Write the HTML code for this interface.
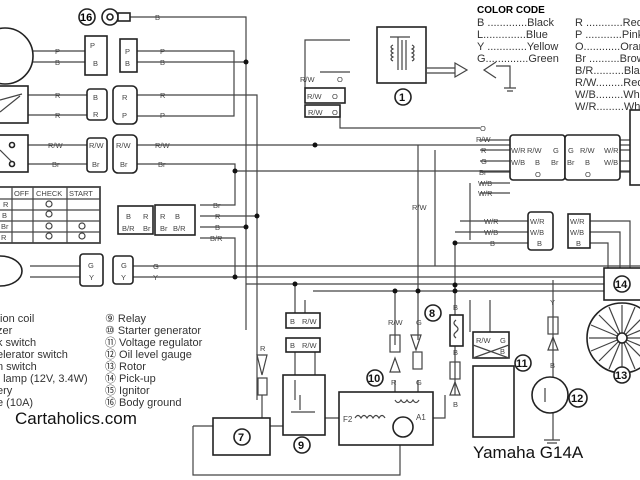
<!DOCTYPE html>
<html><head><meta charset="utf-8"><style>
html,body{margin:0;padding:0;background:#fff;}
svg{display:block;font-family:"Liberation Sans",sans-serif;}
.w{stroke:#444;stroke-width:1.2;fill:none}
.b{stroke:#222;stroke-width:1.6;fill:#fff}
.t{font-size:7.5px;fill:#444}
.lg{font-size:11px;fill:#333}
</style></head><body>
<svg width="640" height="480" viewBox="0 0 640 480" xmlns="http://www.w3.org/2000/svg">
<g class="w">
<path d="M130 17H246V330"/>
<path d="M33 51H85M137 51H234V116H137M33 62H85M137 62H246"/>
<path d="M28 95H87M28 115H87M137 95H257V400"/>
<path d="M28 145H87M28 164H87M137 145H640M137 164H235V205H200"/>
<path d="M235 171H640"/>
<path d="M200 216H257M200 227H246M200 238H235V277"/>
<path d="M30 266H80M30 277H80M133 266H640M133 277H640"/>
<path d="M246 284H640M313 291H640"/>
<path d="M305 88V40H350M320 72H350M340 110V128H480M418 145V291M435 150V266M455 243V291M470 183V240"/>
<path d="M480 140H510M480 150H510M480 161H510M480 172H510M480 183H510M480 193H510"/>
<path d="M460 221H528M455 232H528M455 243H528M590 221H630V270M590 232H620V270M590 243H608V270"/>
<path d="M620 140H640M620 150H640M620 161H640M620 172H640"/>
<path d="M395 291V345M418 291V340M455 285V315M455 346V395M470 300V332M490 300V332M553 280V440"/>
<path d="M295 284V313M305 300V315M295 352V375M315 352V375"/>
<path d="M193 426V475H400V418M193 426H213M270 426H283M262 395V418M325 418H339M433 418H445V395"/>
<path d="M395 380V400M418 380V400"/>
</g>
<g fill="#111">
<circle cx="246" cy="62" r="2.5"/><circle cx="315" cy="145" r="2.5"/><circle cx="235" cy="171" r="2.5"/>
<circle cx="257" cy="216" r="2.5"/><circle cx="246" cy="227" r="2.5"/><circle cx="235" cy="277" r="2.5"/>
<circle cx="295" cy="284" r="2.5"/><circle cx="455" cy="243" r="2.5"/><circle cx="455" cy="285" r="2.5"/>
<circle cx="418" cy="291" r="2.5"/><circle cx="395" cy="291" r="2.5"/><circle cx="455" cy="291" r="2.5"/>
</g>
<circle cx="87" cy="17" r="8" class="b"/><text x="80" y="21" font-size="11" font-weight="bold">16</text>
<circle cx="110" cy="17" r="8" class="b"/><circle cx="110" cy="17" r="3" class="b"/><rect x="118" y="13" width="12" height="8" class="b"/>
<circle cx="5" cy="56" r="28" class="b"/>
<rect x="-2" y="86" width="30" height="37" class="b"/><path d="M0 100L22 94M0 112L20 96" class="w"/>
<rect x="-2" y="135" width="30" height="37" class="b"/><path d="M0 150L12 162" class="w"/><circle cx="12" cy="145" r="2.5" class="b"/><circle cx="12" cy="164" r="2.5" class="b"/>
<ellipse cx="0" cy="271" rx="22" ry="15" class="b"/>
<g class="b">
<rect x="85" y="36" width="22" height="39"/><rect x="120" y="39" width="17" height="33"/>
<rect x="87" y="89" width="20" height="31" rx="3"/><rect x="113" y="86" width="24" height="38" rx="5"/>
<rect x="87" y="138" width="20" height="34" rx="3"/><rect x="113" y="135" width="24" height="38" rx="5"/>
<rect x="118" y="206" width="35" height="28"/><rect x="155" y="205" width="40" height="30"/>
<rect x="80" y="254" width="23" height="32" rx="3"/><rect x="113" y="256" width="20" height="28" rx="3"/>
<rect x="305" y="88" width="40" height="15"/><rect x="305" y="105" width="35" height="12"/>
<rect x="377" y="27" width="49" height="56"/>
<rect x="510" y="135" width="55" height="45" rx="3"/><rect x="565" y="135" width="55" height="45" rx="3"/>
<rect x="630" y="110" width="15" height="75"/>
<rect x="528" y="212" width="25" height="38" rx="3"/><rect x="568" y="214" width="22" height="34"/>
<rect x="604" y="268" width="40" height="32"/>
<rect x="286" y="313" width="34" height="15"/><rect x="286" y="338" width="34" height="14"/>
<rect x="283" y="375" width="42" height="60"/>
<rect x="213" y="418" width="57" height="37"/>
<rect x="339" y="392" width="94" height="53"/>
<rect x="450" y="315" width="13" height="31"/>
<rect x="473" y="332" width="36" height="26"/><rect x="473" y="366" width="41" height="71"/>
</g>
<!-- coil internals -->
<g class="w">
<path d="M390 37H410M398 37V70M402 40V70M406 40V70"/>
<path d="M393 45q-4 2 0 4q-4 2 0 4q-4 2 0 4q-4 2 0 4M412 45q4 2 0 4q4 2 0 4q4 2 0 4q4 2 0 4"/>
<path d="M355 418q3-5 6 0q3-5 6 0q3-5 6 0q3-5 6 0q3-5 6 0"/>
<path d="M395 400q3 5 6 0q3 5 6 0q3 5 6 0q3 5 6 0"/>
<path d="M456 320q-4 3 0 6q4 3 0 6q-4 3 0 6"/>
<path d="M295 380V400M300 395V410M291 412H315"/>
</g>
<path d="M426 68H455M426 73H455M455 63L467 70L455 77Z" class="w"/>
<path d="M496 62L484 70L496 78M496 66H510V88M504 88H516M507 91H513" class="w"/>
<g class="w"><rect x="-2" y="187" width="102" height="56" stroke-width="1.8"/><path d="M12 187V243M33 187V243M67 187V243M0 199H100M0 210H100M0 221H100M0 232H100"/></g>
<g class="t"><text x="14" y="196">OFF</text><text x="36" y="196">CHECK</text><text x="69" y="196">START</text>
<text x="3" y="207">R</text><text x="2" y="218">B</text><text x="1" y="229">Br</text><text x="1" y="240">R</text></g>
<g class="w"><circle cx="49" cy="204" r="3"/><circle cx="49" cy="214" r="3"/><circle cx="49" cy="226" r="3"/><circle cx="49" cy="236" r="3"/><circle cx="82" cy="226" r="3"/><circle cx="82" cy="236" r="3"/></g>
<g class="t">
<text x="155" y="20">B</text><text x="55" y="54">P</text><text x="55" y="65">B</text><text x="160" y="54">P</text><text x="160" y="65">B</text>
<text x="90" y="48">P</text><text x="93" y="66">B</text><text x="125" y="54">P</text><text x="125" y="66">B</text>
<text x="55" y="98">R</text><text x="55" y="118">R</text><text x="160" y="98">R</text><text x="160" y="118">P</text>
<text x="93" y="100">B</text><text x="93" y="117">R</text><text x="122" y="100">R</text><text x="122" y="118">P</text>
<text x="48" y="148">R/W</text><text x="52" y="167">Br</text><text x="155" y="148">R/W</text><text x="158" y="167">Br</text>
<text x="89" y="148">R/W</text><text x="92" y="167">Br</text><text x="116" y="148">R/W</text><text x="120" y="167">Br</text>
<text x="213" y="208">Br</text><text x="215" y="219">R</text><text x="215" y="230">B</text><text x="210" y="241">B/R</text>
<text x="126" y="219">B</text><text x="143" y="219">R</text><text x="122" y="231">B/R</text><text x="143" y="231">Br</text>
<text x="160" y="219">R</text><text x="175" y="219">B</text><text x="160" y="231">Br</text><text x="173" y="231">B/R</text>
<text x="88" y="268">G</text><text x="89" y="280">Y</text><text x="121" y="268">G</text><text x="121" y="280">Y</text>
<text x="153" y="269">G</text><text x="153" y="280">Y</text>
<text x="307" y="99">R/W</text><text x="332" y="99">O</text><text x="308" y="115">R/W</text><text x="332" y="115">O</text>
<text x="300" y="82">R/W</text><text x="337" y="82">O</text>
<text x="480" y="131">O</text><text x="476" y="142">R/W</text><text x="481" y="153">R</text><text x="481" y="164">G</text><text x="479" y="175">Br</text><text x="478" y="186">W/B</text><text x="478" y="196">W/R</text>
<text x="511" y="153">W/R</text><text x="527" y="153">R/W</text><text x="553" y="153">G</text><text x="568" y="153">G</text><text x="580" y="153">R/W</text><text x="604" y="153">W/R</text>
<text x="511" y="165">W/B</text><text x="535" y="165">B</text><text x="551" y="165">Br</text><text x="567" y="165">Br</text><text x="585" y="165">B</text><text x="604" y="165">W/B</text>
<text x="535" y="177">O</text><text x="585" y="177">O</text>
<text x="484" y="224">W/R</text><text x="484" y="235">W/B</text><text x="490" y="246">B</text>
<text x="530" y="224">W/R</text><text x="530" y="235">W/B</text><text x="537" y="246">B</text>
<text x="570" y="224">W/R</text><text x="570" y="235">W/B</text><text x="576" y="246">B</text>
<text x="412" y="210">R/W</text>
<text x="290" y="324">B</text><text x="302" y="324">R/W</text><text x="290" y="348">B</text><text x="302" y="348">R/W</text>
<text x="260" y="351">R</text><text x="388" y="325">R/W</text><text x="416" y="325">G</text><text x="391" y="385">R</text><text x="416" y="385">G</text>
<text x="453" y="310">B</text><text x="453" y="355">B</text><text x="453" y="407">B</text>
<text x="476" y="343">R/W</text><text x="500" y="343">G</text><text x="500" y="354">B</text>
<text x="550" y="305">Y</text><text x="550" y="368">B</text>
<text x="343" y="422" font-size="8">F2</text><text x="416" y="420" font-size="8">A1</text>
</g>
<g class="w">
<path d="M257 355L262 375L267 355Z"/><rect x="258" y="378" width="9" height="17"/>
<rect x="390" y="335" width="10" height="17"/><path d="M390 372L395 358L400 372Z"/>
<path d="M411 335L416 350L421 335Z"/><rect x="413" y="352" width="9" height="17"/>
<rect x="450" y="362" width="10" height="17"/><path d="M450 395L455 382L460 395Z"/>
<rect x="548" y="317" width="10" height="17"/><path d="M548 350L553 337L558 350Z"/>
<path d="M473 345L509 358M473 358L509 345"/>
</g>
<circle cx="403" cy="427" r="10" class="b"/><circle cx="550" cy="395" r="18" class="b"/>
<path d="M544 440H560M547 443H557M545 388V402" class="w"/>
<circle cx="622" cy="338" r="35" class="b"/>
<g class="w" stroke-width="0.8">
<path d="M622 338L622 305M622 338L645 315M622 338L655 338M622 338L645 361M622 338L622 371M622 338L599 361M622 338L589 338M622 338L599 315M622 338L635 307M622 338L653 325M622 338L653 351M622 338L635 369M622 338L609 369M622 338L591 351M622 338L591 325M622 338L609 307"/>
</g>
<circle cx="622" cy="338" r="5" class="b"/>
<g font-size="11" font-weight="bold" fill="#111">
<circle cx="403" cy="97" r="8" class="b"/><text x="399" y="101">1</text>
<circle cx="433" cy="313" r="8" class="b"/><text x="429" y="317">8</text>
<circle cx="375" cy="378" r="8" class="b"/><text x="368" y="382">10</text>
<circle cx="523" cy="363" r="8" class="b"/><text x="516" y="367">11</text>
<circle cx="578" cy="398" r="9" class="b"/><text x="571" y="402">12</text>
<circle cx="622" cy="375" r="8" class="b"/><text x="615" y="379">13</text>
<circle cx="622" cy="284" r="8" class="b"/><text x="615" y="288">14</text>
<circle cx="242" cy="437" r="8" class="b"/><text x="238" y="441">7</text>
<circle cx="302" cy="445" r="8" class="b"/><text x="298" y="449">9</text>
</g>
<text x="477" y="13" font-size="10" font-weight="bold">COLOR CODE</text>
<g class="lg" font-size="9.5">
<text x="477" y="26">B .............Black</text><text x="477" y="38">L..............Blue</text>
<text x="477" y="50">Y .............Yellow</text><text x="477" y="62">G..............Green</text>
<text x="575" y="26">R ............Red</text><text x="575" y="38">P ............Pink</text>
<text x="575" y="50">O............Orange</text><text x="575" y="62">Br ..........Brown</text>
<text x="575" y="74">B/R..........Black</text><text x="575" y="86">R/W.........Red</text>
<text x="575" y="98">W/B.........White</text><text x="575" y="110">W/R.........White</text>
</g>
<g class="lg" font-size="10">
<text x="-3" y="322">tion coil</text><text x="-3" y="334">zer</text><text x="-3" y="346">k switch</text>
<text x="-3" y="358">elerator switch</text><text x="-3" y="370">n switch</text><text x="-3" y="382">t lamp (12V, 3.4W)</text>
<text x="-3" y="394">ery</text><text x="-3" y="406">e (10A)</text>
<text x="105" y="322">⑨ Relay</text><text x="105" y="334">⑩ Starter generator</text><text x="105" y="346">⑪ Voltage regulator</text>
<text x="105" y="358">⑫ Oil level gauge</text><text x="105" y="370">⑬ Rotor</text><text x="105" y="382">⑭ Pick-up</text>
<text x="105" y="394">⑮ Ignitor</text><text x="105" y="406">⑯ Body ground</text>
</g>
<text x="15" y="424" font-size="17" fill="#111">Cartaholics.com</text>
<text x="473" y="458" font-size="17" fill="#111">Yamaha G14A</text>
</svg>
</body></html>
